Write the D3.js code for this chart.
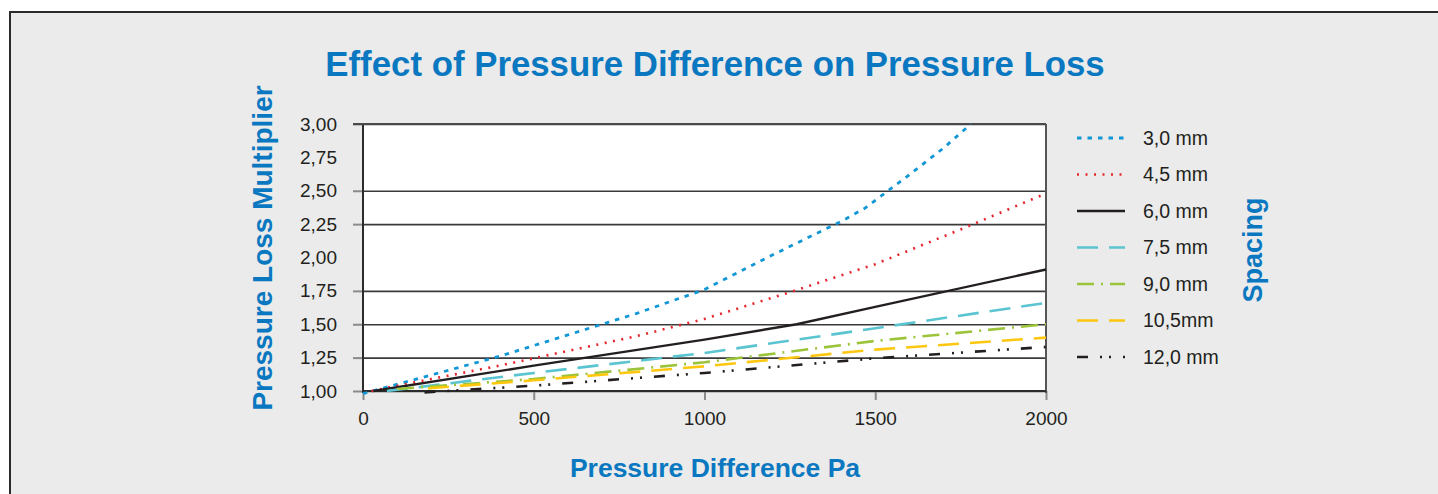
<!DOCTYPE html>
<html><head><meta charset="utf-8">
<script src="https://cdn.jsdelivr.net/npm/d3@7"></script>
<style>
html,body{margin:0;padding:0;background:#fff;}
svg{display:block;font-family:"Liberation Sans",Arial,sans-serif;}
</style></head>
<body>
<svg id="c" width="1438" height="494"></svg>
<script>
// ---- data ----
const titleText = "Effect of Pressure Difference on Pressure Loss";
const xLabel = "Pressure Difference Pa";
const yLabel = "Pressure Loss Multiplier";
const legendTitle = "Spacing";
const xTicks = [0, 500, 1000, 1500, 2000];
const yTicks = [1.00, 1.25, 1.50, 1.75, 2.00, 2.25, 2.50, 2.75, 3.00];
const gridTicks = [1.00, 1.25, 1.50, 1.75, 2.25, 2.50, 3.00];
const seriesNames = ["3,0 mm", "4,5 mm", "6,0 mm", "7,5 mm", "9,0 mm", "10,5mm", "12,0 mm"];
const s30x = [0, 200, 400, 600, 800, 1000, 1200, 1400, 1470, 1600, 1700, 1780];
const s30y = [0.98, 1.12, 1.26, 1.42, 1.58, 1.76, 2.02, 2.27, 2.37, 2.62, 2.82, 3.00];
const s45x = [25, 200, 400, 600, 800, 1000, 1250, 1500, 1750, 2000];
const s45y = [1.00, 1.09, 1.19, 1.30, 1.41, 1.54, 1.74, 1.95, 2.21, 2.48];
const s60x = [30, 500, 1000, 1270, 1500, 2000];
const s60y = [1.00, 1.19, 1.385, 1.50, 1.63, 1.91];
const s75x = [70, 500, 1000, 1500, 2000];
const s75y = [1.00, 1.135, 1.285, 1.47, 1.66];
const s90x = [100, 500, 1000, 1500, 2000];
const s90y = [1.015, 1.09, 1.215, 1.375, 1.50];
const s105x = [190, 500, 1000, 1500, 2000];
const s105y = [1.02, 1.08, 1.185, 1.31, 1.40];
const s120x = [180, 500, 1000, 1500, 2000];
const s120y = [0.99, 1.04, 1.135, 1.245, 1.33];

const seriesX = [s30x, s45x, s60x, s75x, s90x, s105x, s120x];
const seriesY = [s30y, s45y, s60y, s75y, s90y, s105y, s120y];

// ---- styles ----
const colors = ["#1196d6", "#e5272d", "#231f20", "#5ac4d0", "#9cc43a", "#fdc70f", "#231f20"];
const dashes = ["4.5,6", "2,6.5", null, "21,11", "17,7,2,7", "21,11", "11,12,2,7,2,12"];
const widths = [2.8, 2.6, 2.4, 2.6, 2.6, 2.6, 2.6];
const blue = "#0a78c1";

const svg = d3.select("#c");
// frame
svg.append("rect").attr("x", 10).attr("y", 12).attr("width", 1440).attr("height", 500)
  .attr("fill", "#eaebea").attr("stroke", "#2b2b2b").attr("stroke-width", 2);

const x = d3.scaleLinear().domain([0, 2000]).range([363, 1046]);
const y = d3.scaleLinear().domain([1, 3]).range([391, 124]);

// plot background
svg.append("rect").attr("x", x(0)).attr("y", y(3)).attr("width", x(2000) - x(0)).attr("height", y(1) - y(3))
  .attr("fill", "#fff");

// gridlines
const grid = svg.append("g").attr("transform", `translate(${x(0)},0)`)
  .call(d3.axisLeft(y).tickValues(gridTicks).tickSize(-(x(2000) - x(0))).tickFormat(""));
grid.select(".domain").remove();
grid.selectAll("line").attr("stroke", "#3a3a3a").attr("stroke-width", 1.6);
// left ticks (gray)
const lt = svg.append("g").attr("transform", `translate(${x(0)},0)`)
  .call(d3.axisLeft(y).tickValues(gridTicks).tickSize(10).tickFormat(""));
lt.select(".domain").remove();
lt.selectAll("line").attr("stroke", "#8a8a8a").attr("stroke-width", 2);

// y labels
const yl = svg.append("g").attr("transform", `translate(${x(0)},0)`)
  .call(d3.axisLeft(y).tickValues(yTicks).tickSize(0).tickPadding(26)
    .tickFormat(d => d3.format(".2f")(d).replace(".", ",")));
yl.select(".domain").remove();
yl.selectAll("text").attr("font-size", 19).attr("fill", "#231f20")
  .attr("font-family", "Liberation Sans, Arial, sans-serif");

// x axis
const xa = svg.append("g").attr("transform", `translate(0,${y(1)})`)
  .call(d3.axisBottom(x).tickValues(xTicks).tickSize(9).tickPadding(12).tickFormat(d3.format("d")));
xa.select(".domain").remove();
xa.selectAll("line").attr("stroke", "#8a8a8a").attr("stroke-width", 2);
xa.selectAll("text").attr("font-size", 19).attr("fill", "#231f20")
  .attr("font-family", "Liberation Sans, Arial, sans-serif");

// plot border
svg.append("line").attr("x1", x(0)).attr("x2", x(0)).attr("y1", y(3)).attr("y2", y(1) + 2)
  .attr("stroke", "#2b2b2b").attr("stroke-width", 2);
svg.append("line").attr("x1", x(2000)).attr("x2", x(2000)).attr("y1", y(3)).attr("y2", y(1) + 2)
  .attr("stroke", "#555", ).attr("stroke-width", 2);
svg.append("line").attr("x1", x(0)).attr("x2", x(2000)).attr("y1", y(1)).attr("y2", y(1))
  .attr("stroke", "#2b2b2b").attr("stroke-width", 2);
svg.append("line").attr("x1", x(0) - 10).attr("x2", x(2000)).attr("y1", y(3)).attr("y2", y(3))
  .attr("stroke", "#4a4a4a").attr("stroke-width", 2.2);

// series
const line = d3.line().x(d => x(d[0])).y(d => y(d[1]));
seriesNames.forEach((name, i) => {
  const pts = seriesX[i].map((v, j) => [v, seriesY[i][j]]);
  svg.append("path").datum(pts).attr("d", line).attr("fill", "none")
    .attr("stroke", colors[i]).attr("stroke-width", widths[i])
    .attr("stroke-dasharray", dashes[i]);
});

// legend
const legY = d3.scalePoint().domain(seriesNames).range([138, 357]);
const leg = svg.append("g");
seriesNames.forEach((name, i) => {
  leg.append("line").attr("x1", 1077).attr("x2", 1125).attr("y1", legY(name)).attr("y2", legY(name))
    .attr("stroke", colors[i]).attr("stroke-width", widths[i]).attr("stroke-dasharray", dashes[i]);
  leg.append("text").attr("x", 1143).attr("y", legY(name)).attr("dy", "0.35em")
    .attr("font-size", 19.5).attr("fill", "#231f20").text(name);
});

// texts
svg.append("text").attr("x", 715).attr("y", 76).attr("text-anchor", "middle")
  .attr("font-size", 34.8).attr("font-weight", "bold").attr("fill", blue).text(titleText);
svg.append("text").attr("x", 715).attr("y", 477).attr("text-anchor", "middle")
  .attr("font-size", 26.5).attr("font-weight", "bold").attr("fill", blue).text(xLabel);
svg.append("text").attr("transform", "translate(272,248) rotate(-90)").attr("text-anchor", "middle")
  .attr("font-size", 28).attr("font-weight", "bold").attr("fill", blue).text(yLabel);
svg.append("text").attr("transform", "translate(1262,250) rotate(-90)").attr("text-anchor", "middle")
  .attr("font-size", 27).attr("font-weight", "bold").attr("fill", blue).text(legendTitle);
</script>
</body></html>
